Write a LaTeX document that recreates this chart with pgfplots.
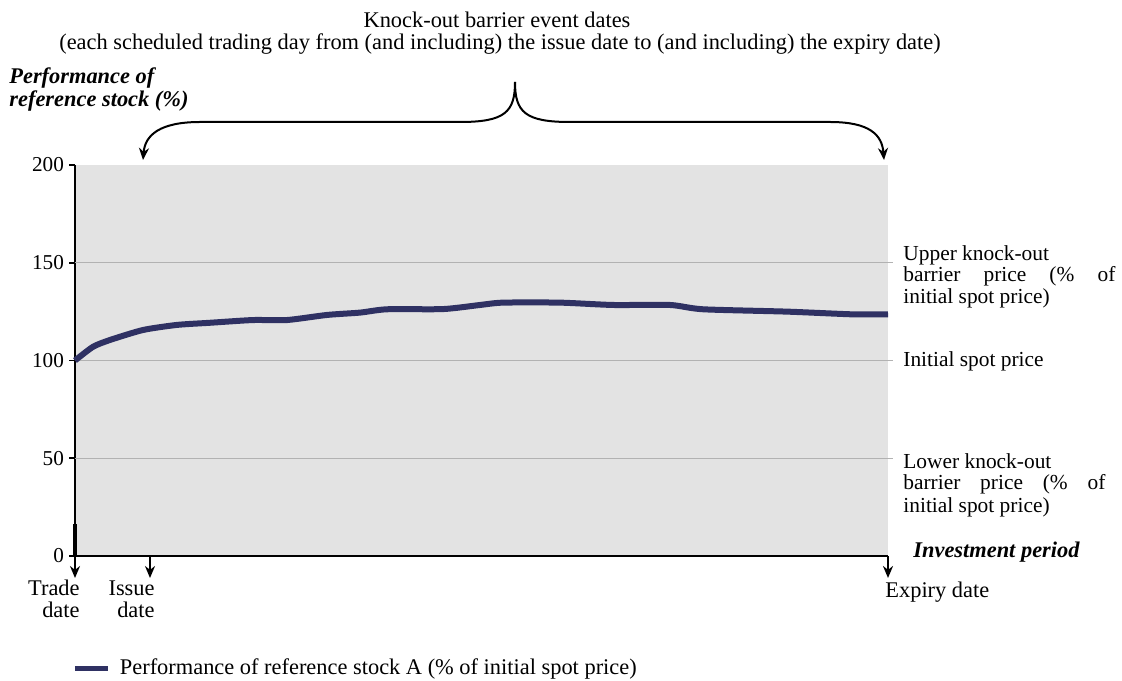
\documentclass[border=0pt]{standalone}
\usepackage{fontspec}
\setmainfont{Liberation Serif}
\usepackage{pgfplots}
\pgfplotsset{compat=1.18}
\usetikzlibrary{arrows.meta}
\definecolor{linecol}{HTML}{2F3163}
\definecolor{bgcol}{HTML}{E3E3E3}
\newcommand\fa{\fontsize{11.2}{11}\selectfont}
\newcommand\fr{\fontsize{10.7}{11}\selectfont}
\begin{document}
\begin{tikzpicture}[font=\fa]
\useasboundingbox (0pt,0pt) rectangle (561pt,340pt);
\begin{axis}[at={(37.5pt,62pt)}, anchor=origin, scale only axis,
  width=406.5pt, height=195.5pt,
  xmin=0, xmax=813, ymin=0, ymax=200,
  axis x line*=bottom, axis y line*=left,
  axis line style={-, line width=1pt, black},
  axis background/.style={fill=bgcol},
  xtick=\empty, ytick={0,50,100,150,200},
  major tick length=3pt, tick align=outside,
  tick style={black, line width=0.8pt},
  yticklabel style={font=\fontsize{10.6}{11}\selectfont, /pgf/number format/assume math mode=true, xshift=1pt},
  clip=false,
  legend style={at={(-0.0037,-0.287)}, anchor=west, draw=none, fill=none, font=\fa, inner sep=0pt},
  legend cell align=left,
  legend image code/.code={\draw[line width=2.5pt, linecol] (0pt,0pt) -- (16.5pt,0pt); \path[draw=none] (16.5pt,0pt) -- (20.5pt,0pt);},
]
\draw[gray!60, line width=0.5pt] (axis cs:0,50) -- ([xshift=2.5pt]axis cs:813,50);
\draw[gray!60, line width=0.5pt] (axis cs:0,100) -- ([xshift=2.5pt]axis cs:813,100);
\draw[gray!60, line width=0.5pt] (axis cs:0,150) -- ([xshift=2.5pt]axis cs:813,150);
\addplot[linecol, line width=3pt, smooth, tension=0.4] coordinates {
(0,100) (18,107) (35,110.5) (68,115.6) (102,118.2) (135,119.3) (178,120.7) (212,120.7)
(252,123.3) (285,124.5) (312,126.2) (368,126.3) (405,128.4) (428,129.6) (485,129.6)
(538,128.4) (595,128.4) (628,126.2) (712,125) (778,123.6) (813,123.6)
};
\addlegendentry{Performance of reference stock A (\% of initial spot price)}
\end{axis}
\begin{scope}[x=0.5pt,y=0.5pt]
% thicker bottom of left axis
\draw[line width=1.6pt] (75,124) -- (75,156);
% titles
\node at (497,660) {Knock-out barrier event dates};
\node at (500,636) {(each scheduled trading day from (and including) the issue date to (and including) the expiry date)};
\node[anchor=west, font=\fa\bfseries\itshape, inner sep=0] at (9,602) {Performance of};
\node[anchor=west, font=\fa\bfseries\itshape, inner sep=0] at (9,579) {reference stock (\%)};
% brace
\draw[line width=1pt, -{Stealth[length=6pt,width=5pt]}] (515,598) .. controls (515,568) and (505,558) .. (460,558) -- (200,558) .. controls (160,558) and (145,545) .. (143,520);
\draw[line width=1pt, -{Stealth[length=6pt,width=5pt]}] (515,598) .. controls (515,568) and (525,558) .. (570,558) -- (830,558) .. controls (870,558) and (882,545) .. (884,520);
% bottom arrows
\draw[line width=1pt, -{Stealth[length=6pt,width=5pt]}] (75,124) -- (75,102);
\draw[line width=1pt, -{Stealth[length=6pt,width=5pt]}] (150,124) -- (150,102);
\draw[line width=1pt, -{Stealth[length=6pt,width=5pt]}] (888,124) -- (888,102);
% bottom labels
\node[anchor=north east, align=right, inner sep=0] at (80,100) {Trade\\date};
\node[anchor=north east, align=right, inner sep=0] at (155,100) {Issue\\date};
\node[anchor=north west, inner sep=0] at (885,98) {Expiry date};
\node[anchor=west, font=\fa\bfseries\itshape, inner sep=0] at (913,128) {Investment period};
% right labels
\node[anchor=west, inner sep=0, font=\fr] at (903,425) {Upper knock-out};
\node[anchor=west, inner sep=0, font=\fr] at (903,404) {\makebox[106pt][l]{barrier\hfill price\hfill (\%\hfill of}};
\node[anchor=west, inner sep=0, font=\fr] at (903,382) {initial spot price)};
\node[anchor=west, inner sep=0, font=\fr] at (903,319) {Initial spot price};
\node[anchor=west, inner sep=0, font=\fr] at (903,219) {Lower knock-out};
\node[anchor=west, inner sep=0, font=\fr] at (903,196) {\makebox[101pt][l]{barrier\hfill price\hfill (\%\hfill of}};
\node[anchor=west, inner sep=0, font=\fr] at (903,173) {initial spot price)};
\end{scope}
\end{tikzpicture}
\end{document}
